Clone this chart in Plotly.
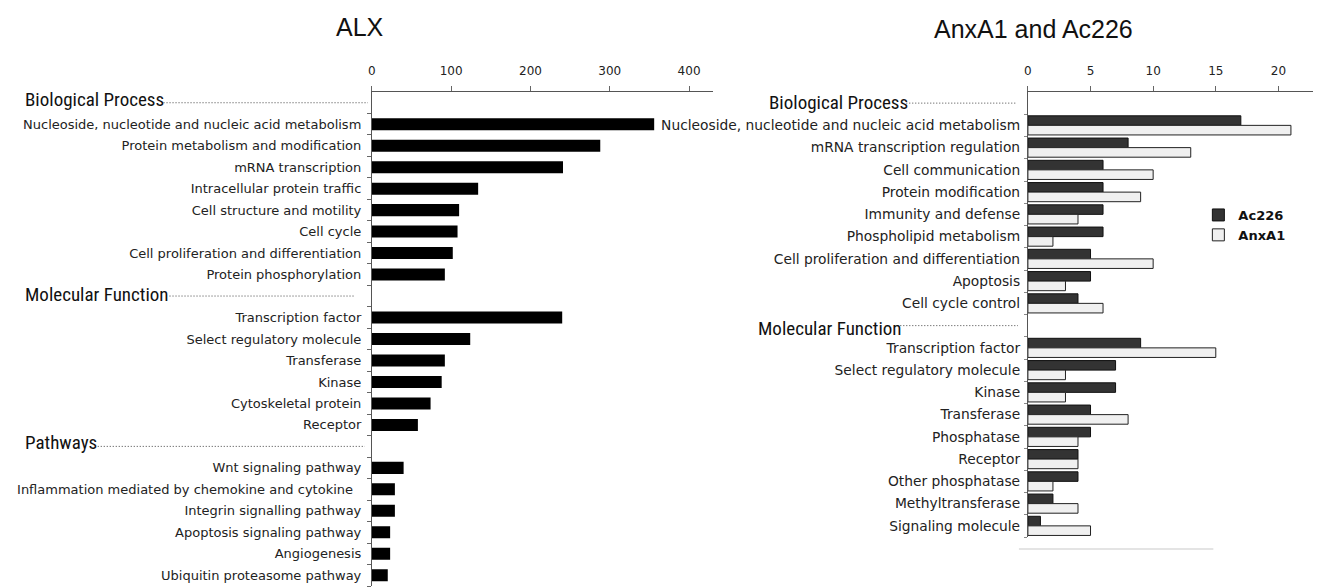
import plotly.graph_objects as go

# ---------------- data ----------------
alx_bp_labels = ["Nucleoside, nucleotide and nucleic acid metabolism", "Protein metabolism and modification",
                 "mRNA transcription", "Intracellular protein traffic", "Cell structure and motility",
                 "Cell cycle", "Cell proliferation and differentiation", "Protein phosphorylation"]
alx_bp_values = [356, 288, 241, 134, 110, 108, 102, 92]
alx_mf_labels = ["Transcription factor", "Select regulatory molecule", "Transferase", "Kinase",
                 "Cytoskeletal protein", "Receptor"]
alx_mf_values = [240, 124, 92, 88, 74, 58]
alx_pw_labels = ["Wnt signaling pathway", "Inflammation mediated by chemokine and cytokine\u00a0\u00a0",
                 "Integrin signalling pathway", "Apoptosis signaling pathway", "Angiogenesis",
                 "Ubiquitin proteasome pathway"]
alx_pw_values = [40, 29, 29, 23, 23, 20]

ax_bp_labels = ["Nucleoside, nucleotide and nucleic acid metabolism", "mRNA transcription regulation",
                "Cell communication", "Protein modification", "Immunity and defense",
                "Phospholipid metabolism", "Cell proliferation and differentiation", "Apoptosis",
                "Cell cycle control"]
ac226_bp_values = [17, 8, 6, 6, 6, 6, 5, 5, 4]
anxa1_bp_values = [21, 13, 10, 9, 4, 2, 10, 3, 6]
ax_mf_labels = ["Transcription factor", "Select regulatory molecule", "Kinase", "Transferase",
                "Phosphatase", "Receptor", "Other phosphatase", "Methyltransferase", "Signaling molecule"]
ac226_mf_values = [9, 7, 7, 5, 5, 4, 4, 2, 1]
anxa1_mf_values = [15, 3, 3, 8, 4, 4, 2, 4, 5]

alx_headings = ["Biological Process", "Molecular Function", "Pathways"]
ax_headings = ["Biological Process", "Molecular Function"]
alx_ticks = [0, 100, 200, 300, 400]
ax_ticks = [0, 5, 10, 15, 20]

# ---------------- helpers ----------------
OFF = 8                     # page body margin
W, H = 1321 - OFF, 588 - OFF
def px(p):
    return (p - OFF) / W
def py(p):
    return 1 - (p - OFF) / H

def layout_rows(groups):
    pos = 0
    head_pos, item_pos, item_lab = [], [], []
    vals = None
    for heading, labels, series in groups:
        head_pos.append(pos)
        pos += 1
        if vals is None:
            vals = [[] for _ in series]
        for i, lab in enumerate(labels):
            item_pos.append(pos)
            item_lab.append(lab)
            for k, s in enumerate(series):
                vals[k].append(s[i])
            pos += 1
    return head_pos, item_pos, item_lab, vals, pos

L_head, L_pos, L_lab, L_vals, L_n = layout_rows([
    (alx_headings[0], alx_bp_labels, [alx_bp_values]),
    (alx_headings[1], alx_mf_labels, [alx_mf_values]),
    (alx_headings[2], alx_pw_labels, [alx_pw_values]),
])
R_head, R_pos, R_lab, R_vals, R_n = layout_rows([
    (ax_headings[0], ax_bp_labels, [ac226_bp_values, anxa1_bp_values]),
    (ax_headings[1], ax_mf_labels, [ac226_mf_values, anxa1_mf_values]),
])

LABEL_FONT = "DejaVu Sans, Verdana, sans-serif"
HEAD_FONT = "Liberation Sans Narrow, Arial Narrow, Roboto Condensed, Roboto, sans-serif"
TITLE_FONT = "Liberation Sans, Arial, sans-serif"

fig = go.Figure()

fig.add_trace(go.Bar(
    x=L_vals[0], y=L_pos, orientation="h", xaxis="x", yaxis="y",
    marker=dict(color="#000000", line=dict(width=0)),
    width=0.56, offset=-0.28, showlegend=False, name="ALX"))

fig.add_trace(go.Bar(
    x=R_vals[0], y=R_pos, orientation="h", xaxis="x2", yaxis="y2",
    marker=dict(color="#333333", line=dict(color="#111111", width=1)),
    width=0.43, offset=-0.43, name="Ac226"))
fig.add_trace(go.Bar(
    x=R_vals[1], y=R_pos, orientation="h", xaxis="x2", yaxis="y2",
    marker=dict(color="#f0f0f0", line=dict(color="#222222", width=1)),
    width=0.43, offset=0.0, name="AnxA1"))

axis_common = dict(showgrid=False, zeroline=False, showline=True, linecolor="#555555", linewidth=1)
xtickfont = dict(family=LABEL_FONT, size=12, color="#222222")

fig.update_layout(
    width=W, height=H, margin=dict(l=0, r=0, t=0, b=0),
    paper_bgcolor="white", plot_bgcolor="white", barmode="overlay",
    xaxis=dict(domain=[px(369), px(711)], range=[0, 430], side="top", anchor="y",
               tickvals=alx_ticks, ticks="outside", ticklen=5, tickcolor="#666666",
               ticklabelstandoff=6, tickfont=xtickfont, **axis_common),
    yaxis=dict(domain=[py(586), py(92)], range=[L_n - 0.5, -0.5], anchor="x",
               tickvals=L_pos, ticktext=L_lab, ticks="", ticklabelstandoff=7,
               tickfont=dict(family=LABEL_FONT, size=13, color="#222222"),
               minor=dict(tickvals=[p + 0.5 for p in range(L_n)], ticks="outside", ticklen=4,
                          tickcolor="#666666", showgrid=False),
               **axis_common),
    xaxis2=dict(domain=[px(1027), 1.0], range=[0, 23.4], side="top", anchor="y2",
                tickvals=ax_ticks, ticks="outside", ticklen=5, tickcolor="#666666",
                ticklabelstandoff=6, tickfont=xtickfont, **axis_common),
    yaxis2=dict(domain=[py(537), py(92)], range=[R_n - 0.5, -0.5], anchor="x2",
                tickvals=R_pos, ticktext=R_lab, ticks="", ticklabelstandoff=4,
                tickfont=dict(family=LABEL_FONT, size=13.8, color="#222222"),
                minor=dict(tickvals=[p + 0.5 for p in range(R_n)], ticks="outside", ticklen=3,
                           tickcolor="#888888", showgrid=False),
                **axis_common),
    legend=dict(x=px(1198), y=py(200), xanchor="left", yanchor="top",
                font=dict(family=LABEL_FONT, size=13, color="#111111", weight="bold"),
                bgcolor="rgba(0,0,0,0)", traceorder="normal", tracegroupgap=4, itemwidth=30),
)

# titles
fig.add_annotation(text="ALX", xref="paper", yref="paper", x=px(357), y=py(27),
                   xanchor="center", yanchor="middle",
                   showarrow=False, font=dict(family=TITLE_FONT, size=25, color="#111111"))
fig.add_annotation(text="AnxA1 and Ac226", xref="paper", yref="paper", x=px(1033), y=py(29),
                   xanchor="center", yanchor="middle",
                   showarrow=False, font=dict(family=TITLE_FONT, size=25, color="#111111"))

# section headings with dotted leaders
left_head_x = [19, 19, 19]
left_dot_span = [(160, 365), (166, 352), (94, 362)]
left_shift = [3, 2, 4]
for h, slot, hx, (d0, d1), sh in zip(alx_headings, L_head, left_head_x, left_dot_span, left_shift):
    fig.add_annotation(text=h, xref="paper", yref="y", x=px(hx), y=slot, xanchor="left",
                       yanchor="middle", showarrow=False, yshift=sh,
                       font=dict(family=HEAD_FONT, size=19, color="#111111"))
    fig.add_shape(type="line", xref="paper", yref="y", x0=px(d0), x1=px(d1), y0=slot, y1=slot,
                  line=dict(color="#444444", width=1, dash="1px,2px"))

right_head_x = [765, 754]
right_dot_span = [(905, 1015), (893, 1017)]
right_shift = [1, -3]
for h, slot, hx, (d0, d1), sh in zip(ax_headings, R_head, right_head_x, right_dot_span, right_shift):
    fig.add_annotation(text=h, xref="paper", yref="y2", x=px(hx), y=slot, xanchor="left",
                       yanchor="middle", showarrow=False, yshift=sh,
                       font=dict(family=HEAD_FONT, size=19, color="#111111"))
    fig.add_shape(type="line", xref="paper", yref="y2", x0=px(d0), x1=px(d1), y0=slot, y1=slot,
                  line=dict(color="#444444", width=1, dash="1px,2px"))

# faint baseline under the right chart
fig.add_shape(type="line", xref="paper", yref="paper", x0=px(1018), x1=px(1213), y0=py(549), y1=py(549),
              line=dict(color="#e4e4e4", width=2))

fig.write_html("out.html")
